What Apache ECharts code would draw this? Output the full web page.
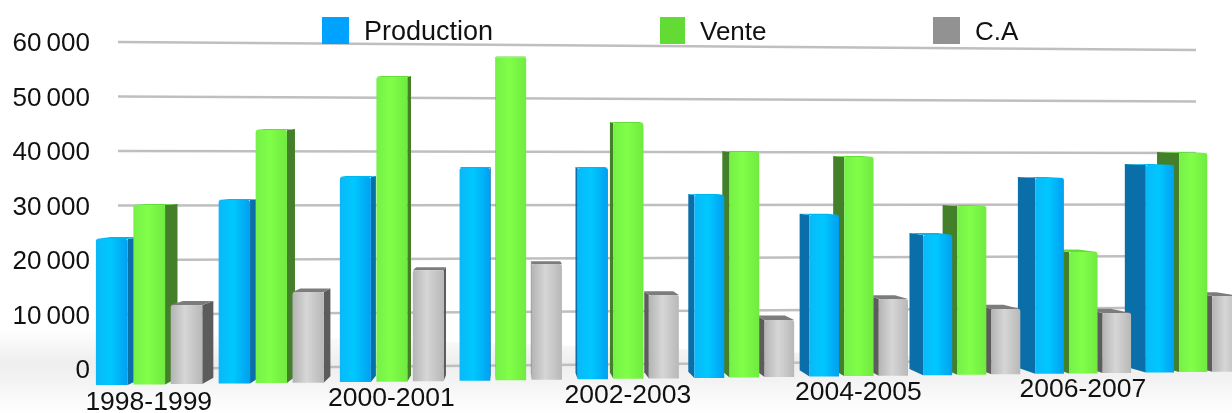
<!DOCTYPE html>
<html><head><meta charset="utf-8">
<style>html,body{margin:0;padding:0;background:#fff}#c{width:1232px;height:413px}</style>
<script src="https://cdn.jsdelivr.net/npm/echarts@6/dist/echarts.min.js"></script>
</head><body><div id="c"></div>
<script>
const categories = ['1998-1999','1999-2000','2000-2001','2001-2002','2002-2003','2003-2004','2004-2005','2005-2006','2006-2007','2007-2008'];
const shownCategories = [0,2,4,6,8];
const yTicks = [0,10000,20000,30000,40000,50000,60000];
const production = [24950,31550,35470,36990,36970,32200,28580,24940,35050,37340];
const vente = [30740,43590,52780,56230,44860,39740,38830,30070,21750,39490];
const ca = [13560,15630,19260,20220,14640,10070,13610,11660,10770,13660];

const FONT = '"Liberation Sans", Arial, sans-serif';
const looks = [
  {front:['#0ab8f8','#00c8ff','#00a0f0'], side:'#0a6ea8', top:'#00b8f0', legend:'#00a2ff'},
  {front:['#76f048','#80ff48','#70ea40'], side:'#44802a', top:'#66dc3c', legend:'#62dc34'},
  {front:['#b4b4b4','#d6d6d6','#b8b8b8'], side:'#5c5c5c', top:'#7c7c7c', legend:'#929292'}
];
const VP = 510;
const proj = (f, origin, band) => origin + band * (-0.705 + 1.1456 * f - 0.00705 * f * f);
const baseShift = x => 16 - 0.0119 * (x - 96);
const persp = x => 1 - 0.05 * (x - 96) / 1050;
const grad = c => ({type:'linear',x:0,y:0,x2:1,y2:0,colorStops:[{offset:0,color:c[0]},{offset:0.45,color:c[1]},{offset:1,color:c[2]}]});

function barRenderer(k) {
  return function (params, api) {
    const i = api.value(0), v = api.value(1);
    const origin = api.coord([0,0])[0], band = api.size([1,0])[0];
    const f = (api.coord([i,0])[0] - origin) / band + k * 0.304;
    const l = proj(f, origin, band), r = proj(f + 0.258, origin, band);
    const y0 = api.coord([i,0])[1], yv = api.coord([i,v])[1];
    const base = y0 + baseShift(l);
    const top = base - (y0 - yv) * 1.0734 * persp(l);
    const dyTop = Math.max(1, 0.03 * (top - 170));
    const dyBase = 0.03 * (base - 170);
    const c = (l + r) / 2;
    const left = c < VP;
    const depth = x => (x < VP ? 0.036 : 0.033) * (VP - x);
    const edge = left ? r : l;
    const d = depth(edge);
    const order = 1000 - Math.round(Math.abs(c - VP));
    const L = looks[k];
    return {type:'group', children:[
      {type:'polygon', z2:order, shape:{points:[[edge,top],[edge+d,top-dyTop],[edge+d,base-dyBase],[edge,base]]}, style:{fill:L.side}},
      {type:'polygon', z2:order, shape:{points:[[l,top],[r,top],[r+depth(r),top-dyTop],[l+depth(l),top-dyTop]]}, style:{fill:L.top}},
      {type:'rect', z2:order, shape:{x:l,y:top,width:r-l,height:base-top,r:[2,2,0,0]}, style:{fill:grad(L.front)}}
    ]};
  };
}
const gridRenderer = (params, api) => {
  const v = api.value(1), band = api.size([1,0])[0];
  const a = api.coord([0,v]), b = api.coord([9,v]);
  const yR = 153 + (a[1] - 151) * 0.945;
  return {type:'line', shape:{x1:a[0]-band/2,y1:a[1],x2:b[0]+band/2,y2:yR}, style:{stroke:'#bfbfbf',lineWidth:2.6}};
};
const labelRenderer = (params, api) => {
  const i = api.value(0);
  const origin = api.coord([0,0])[0], band = api.size([1,0])[0];
  const x = proj(i + 0.429, origin, band);
  const y = api.coord([i,0])[1] + 33.5 - 0.0139 * (x - 150);
  return {type:'text', x:x, y:y, style:{text:categories[i], font:'26.5px '+FONT, fill:'#111', textAlign:'center', textVerticalAlign:'middle'}};
};
const pairs = arr => arr.map((v,i)=>[i,v]);
const legendItem = (name, left, size, icon) => ({left:left, top:12, itemWidth:icon, itemHeight:27, icon:'rect', selectedMode:false,
  data:[name], formatter:n=>'{t|'+n+'}',
  textStyle:{rich:{t:{fontFamily:FONT,fontSize:size,color:'#111',padding:[5,0,0,10]}}}});
const chart = echarts.init(document.getElementById('c'), null, {renderer:'canvas'});
chart.setOption({
  animation:false,
  backgroundColor:'#fff',
  graphic:[{type:'polygon', z:0, silent:true,
    shape:{points:[[0,328],[1232,366],[1232,413],[0,413]]},
    style:{fill:{type:'linear',x:0,y:0,x2:0,y2:1,colorStops:[{offset:0,color:'#ffffff'},{offset:0.42,color:'#eeeeee'},{offset:0.62,color:'#f3f3f3'},{offset:1,color:'#ffffff'}]}}}],
  legend:[legendItem('Production',317,27,27), legendItem('Vente',655,26,25), legendItem('C.A',928,26,27)],
  grid:{left:118,right:36,top:42,bottom:44,containLabel:false},
  xAxis:{type:'category',data:categories,axisLine:{show:false},axisTick:{show:false},axisLabel:{show:false},splitLine:{show:false}},
  yAxis:{type:'value',min:0,max:60000,interval:10000,axisLine:{show:false},axisTick:{show:false},splitLine:{show:false},
    axisLabel:{margin:28,formatter:v=>'{t|'+String(v).replace(/(\d{3})$/,'\u2009$1')+'}',
      rich:{t:{fontFamily:FONT,fontSize:26,color:'#111',padding:[4,0,0,0]}}}},
  series:[
    {type:'custom',name:'grille',z:1,silent:true,renderItem:gridRenderer,data:yTicks.map(v=>[0,v]),clip:false},
    {type:'custom',name:'Production',z:3,itemStyle:{color:looks[0].legend},renderItem:barRenderer(0),data:pairs(production),clip:false},
    {type:'custom',name:'Vente',z:3,itemStyle:{color:looks[1].legend},renderItem:barRenderer(1),data:pairs(vente),clip:false},
    {type:'custom',name:'C.A',z:3,itemStyle:{color:looks[2].legend},renderItem:barRenderer(2),data:pairs(ca),clip:false},
    {type:'custom',name:'axe',z:2,silent:true,renderItem:labelRenderer,data:shownCategories.map(i=>[i,0]),clip:false}
  ]
});
</script></body></html>
